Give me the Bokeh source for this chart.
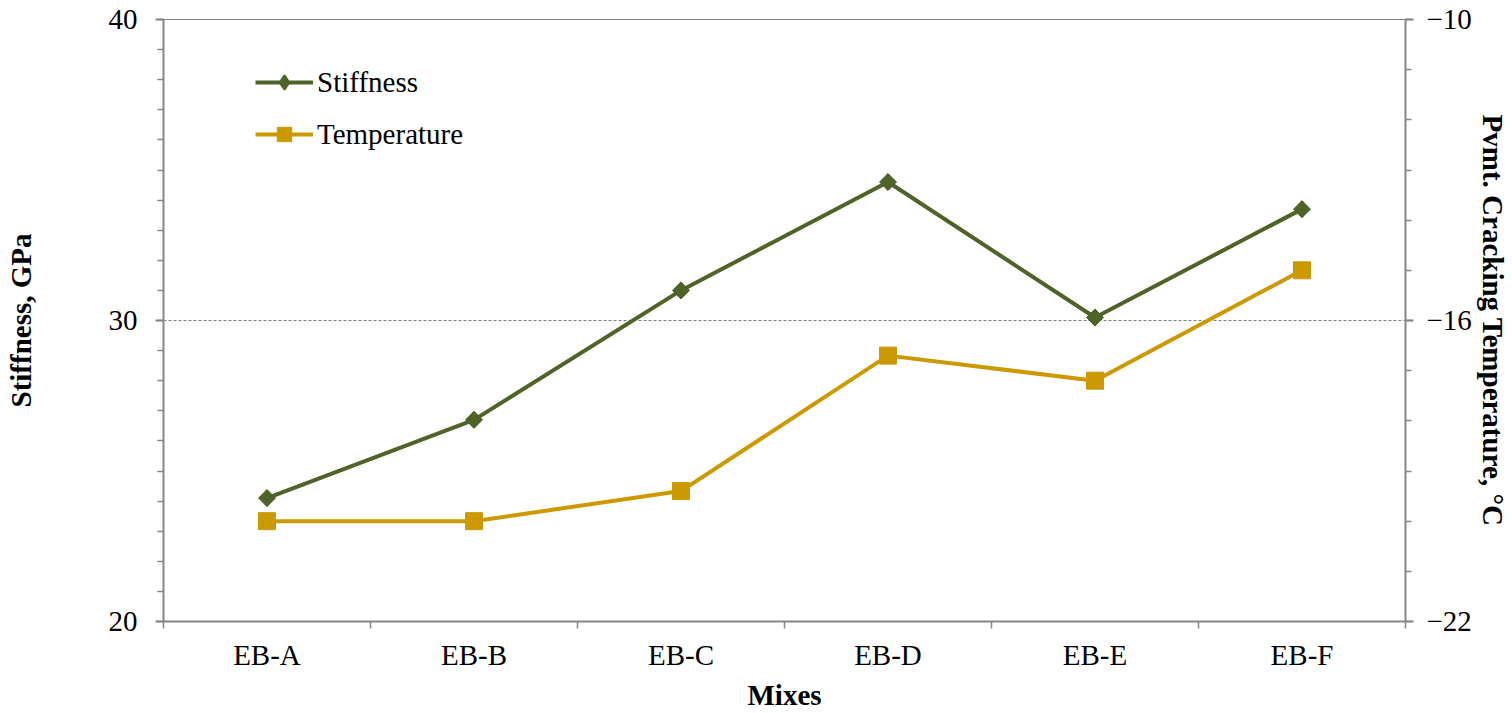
from bokeh.plotting import figure
from bokeh.models import (Range1d, LinearAxis, FixedTicker, Legend, LegendItem, Span)
from bokeh.embed import file_html
from bokeh.resources import INLINE
import math

mixes = ["EB-A", "EB-B", "EB-C", "EB-D", "EB-E", "EB-F"]
stiffness = [24.1, 26.7, 31.0, 34.6, 30.1, 33.7]
temperature = [-20.0, -20.0, -19.4, -16.7, -17.2, -15.0]
left_ticks = [20, 30, 40]
right_ticks = [-22, -16, -10]

STIFF_C = "#4F6228"
TEMP_C = "#CC9900"
AX_C = "#868686"
FONT = "Liberation Serif"
FS = "29px"

xs = [i + 0.5 for i in range(len(mixes))]

p = figure(width=1512, height=713, output_backend="svg", toolbar_location=None,
           x_range=Range1d(0, len(mixes)), y_range=Range1d(20, 40),
           min_border_left=163, min_border_right=107, min_border_top=19, min_border_bottom=90)
p.outline_line_color = None
p.background_fill_color = "white"
p.extra_y_ranges = {"temp": Range1d(-22, -10)}

# x axis
xa = p.xaxis[0]
xa.ticker = FixedTicker(ticks=xs, minor_ticks=list(range(len(mixes) + 1)))
xa.major_label_overrides = {x: m for x, m in zip(xs, mixes)}
xa.major_tick_out = 0
xa.major_tick_in = 0
xa.minor_tick_out = 7
xa.minor_tick_in = 0
xa.axis_label = "Mixes"

ya = p.yaxis[0]
ya.ticker = FixedTicker(ticks=left_ticks, minor_ticks=list(range(20, 41)))
ya.major_tick_out = 8
ya.major_tick_in = 0
ya.minor_tick_out = 6
ya.minor_tick_in = 0
ya.axis_label = "Stiffness, GPa"

ra = LinearAxis(y_range_name="temp", axis_label="Pvmt. Cracking Temperature, °C")
ra.ticker = FixedTicker(ticks=right_ticks, minor_ticks=list(range(-22, -9)))
ra.major_tick_out = 8
ra.major_tick_in = 0
ra.minor_tick_out = 6
ra.minor_tick_in = 0
p.add_layout(ra, "right")

for ax in [xa, ya, ra]:
    ax.axis_line_color = AX_C
    ax.axis_line_width = 2
    ax.major_tick_line_color = AX_C
    ax.major_tick_line_width = 2
    ax.minor_tick_line_color = AX_C
    ax.minor_tick_line_width = 1.5
    ax.major_label_text_font = FONT
    ax.major_label_text_font_size = FS
    ax.major_label_text_color = "black"
    ax.axis_label_text_font = FONT
    ax.axis_label_text_font_size = FS
    ax.axis_label_text_font_style = "bold"
    ax.axis_label_text_color = "black"

xa.major_label_standoff = 10
xa.axis_label_standoff = 5
ya.major_label_standoff = 18
ya.axis_label_standoff = 69
ra.major_label_standoff = 13
ra.axis_label_standoff = 2

p.xgrid.visible = False
p.ygrid.ticker = FixedTicker(ticks=[30])
p.ygrid.grid_line_color = "#808080"
p.ygrid.grid_line_dash = "3 2"
p.ygrid.grid_line_width = 1
p.add_layout(Span(location=40, dimension="width", line_color="black", line_width=1.2))

l1 = p.line(xs, stiffness, line_color=STIFF_C, line_width=4)
# diamond glyph (used for the legend), covered by the rotated-square markers
m1_leg = p.scatter(xs, stiffness, marker="diamond", size=15,
                   fill_color=STIFF_C, line_color=STIFF_C, line_width=2)
p.scatter(xs, stiffness, marker="square", angle=math.pi / 4, size=12,
          fill_color=STIFF_C, line_color=STIFF_C)
l2 = p.line(xs, temperature, line_color=TEMP_C, line_width=4, y_range_name="temp")
m2 = p.scatter(xs, temperature, marker="square", size=17, fill_color=TEMP_C,
               line_color=TEMP_C, y_range_name="temp")

legend = Legend(items=[LegendItem(label="Stiffness", renderers=[l1, m1_leg]),
                       LegendItem(label="Temperature", renderers=[l2, m2])],
                location=(92, 469), padding=0, margin=0, spacing=16,
                glyph_width=58, glyph_height=36, label_height=30, label_standoff=4,
                label_text_font=FONT, label_text_font_size=FS, label_text_color="black",
                border_line_alpha=0, background_fill_alpha=0)
p.add_layout(legend)

open("out.html", "w").write(file_html(p, INLINE))
